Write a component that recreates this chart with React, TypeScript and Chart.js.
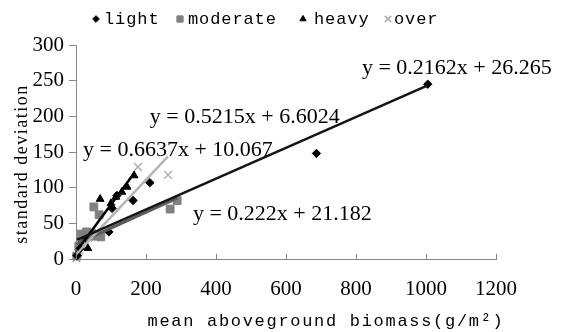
import React, { useEffect, useRef } from 'react';
import { Chart, registerables } from 'chart.js';
import { drawPoint } from 'chart.js/helpers';

Chart.register(...registerables);

// ---------- data ----------
const seriesNames = ['light', 'moderate', 'heavy', 'over'];

const lightX = [3, 12, 30, 94, 103, 117, 163, 211, 687, 1005];
const lightY = [5, 15, 28, 38, 71, 89, 82, 107, 148, 245];

const moderateX = [2, 8, 15, 22, 30, 45, 51, 55, 66, 71, 269, 289];
const moderateY = [4, 18, 35, 30, 38, 36, 73, 32, 62, 31, 70, 82];

const heavyX = [4, 10, 14, 34, 69, 100, 114, 131, 146, 166];
const heavyY = [8, 20, 31, 15, 84, 78, 87, 94, 101, 117];

const overX = [1, 3, 6, 10, 18, 35, 177, 263];
const overY = [1, 4, 8, 12, 20, 30, 129, 118];

const slopes = [0.2162, 0.222, 0.6637, 0.5215];
const intercepts = [26.265, 21.182, 10.067, 6.6024];
const equationLabels = [
  'y = 0.2162x + 26.265',
  'y = 0.222x + 21.182',
  'y = 0.6637x + 10.067',
  'y = 0.5215x + 6.6024',
];
// label anchors (left-middle) in data units
const equationAnchorX = [817, 334, 20, 211];
const equationAnchorY = [268, 63, 153, 199];

const xTickValues = [0, 200, 400, 600, 800, 1000, 1200];
const yTickValues = [0, 50, 100, 150, 200, 250, 300];

const xTitle = 'mean aboveground biomass(g/m²)';
const yTitle = 'standard deviation';

// ---------- styles ----------
const axisColor = '#868686';
const markerStyles = [
  { pointStyle: 'rectRot', radius: 4.2, color: '#000000', lineWidth: 1 },
  { pointStyle: 'rect', radius: 5.5, color: '#808080', lineWidth: 1 },
  { pointStyle: 'triangle', radius: 4.5, color: '#000000', lineWidth: 1 },
  { pointStyle: 'crossRot', radius: 5.5, color: '#b0b0b0', lineWidth: 1.5 },
];
const lineStyles = [
  { color: '#141414', width: 2.5, order: 0 },
  { color: '#5a5a5a', width: 3, order: 3 },
  { color: '#000000', width: 2.5, order: 1 },
  { color: '#b4b4b4', width: 2.5, order: 2 },
];
const legendMarkerX = [96, 180, 303, 388];
const legendTextX = [104, 188, 314, 394];
const legendY = 19;

const seriesX = [lightX, moderateX, heavyX, overX];
const seriesY = [lightY, moderateY, heavyY, overY];

const decorPlugin = {
  id: 'decor',
  afterDraw(chart: any) {
    const { ctx, chartArea } = chart;
    const xs = chart.scales.x;
    const ys = chart.scales.y;
    ctx.save();
    // inside tick marks on x axis
    ctx.strokeStyle = axisColor;
    ctx.lineWidth = 1;
    for (const v of xTickValues) {
      const px = Math.round(xs.getPixelForValue(v)) + 0.5;
      ctx.beginPath();
      ctx.moveTo(px, chartArea.bottom);
      ctx.lineTo(px, chartArea.bottom - 5);
      ctx.stroke();
    }
    // equations
    ctx.fillStyle = '#000';
    ctx.textAlign = 'left';
    ctx.textBaseline = 'middle';
    ctx.font = '22px "Liberation Serif"';
    (ctx as any).letterSpacing = '0px';
    equationLabels.forEach((t, i) => {
      ctx.fillText(t, xs.getPixelForValue(equationAnchorX[i]), ys.getPixelForValue(equationAnchorY[i]));
    });
    // legend
    ctx.font = '17px "Liberation Mono"';
    (ctx as any).letterSpacing = '0.9px';
    seriesNames.forEach((name, i) => {
      const m = markerStyles[i];
      ctx.fillStyle = m.color;
      ctx.strokeStyle = m.color;
      ctx.lineWidth = m.lineWidth;
      drawPoint(ctx, { pointStyle: m.pointStyle as any, radius: m.radius * 0.8, rotation: 0, borderWidth: m.lineWidth }, legendMarkerX[i], legendY);
      ctx.fillStyle = '#000';
      ctx.fillText(name, legendTextX[i], legendY);
    });
    // x title
    ctx.textAlign = 'center';
    ctx.font = '17px "Liberation Mono"';
    (ctx as any).letterSpacing = '1.7px';
    ctx.fillText(xTitle, 326, 321);
    // y title
    ctx.save();
    ctx.translate(22, 164);
    ctx.rotate(-Math.PI / 2);
    ctx.font = '18px "Liberation Serif"';
    (ctx as any).letterSpacing = '1.5px';
    ctx.fillText(yTitle, 0, 0);
    ctx.restore();
    ctx.restore();
  },
};

export default function App() {
  const ref = useRef<HTMLCanvasElement | null>(null);
  useEffect(() => {
    document.body.style.margin = '0';
    const canvas = ref.current!;
    const datasets: any[] = [];
    seriesNames.forEach((name, i) => {
      const xsArr = seriesX[i];
      const x0 = Math.min(...xsArr);
      const x1 = Math.max(...xsArr);
      datasets.push({
        type: 'line',
        label: name + ' trend',
        data: [x0, x1].map((x) => ({ x, y: slopes[i] * x + intercepts[i] })),
        borderColor: lineStyles[i].color,
        borderWidth: lineStyles[i].width,
        pointRadius: 0,
        fill: false,
        order: lineStyles[i].order,
        clip: false,
      });
    });
    seriesNames.forEach((name, i) => {
      const m = markerStyles[i];
      datasets.push({
        type: 'scatter',
        label: name,
        data: seriesX[i].map((x, j) => ({ x, y: seriesY[i][j] })),
        pointStyle: m.pointStyle,
        pointRadius: m.radius,
        backgroundColor: m.color,
        borderColor: m.color,
        borderWidth: m.lineWidth,
        order: 4 + i,
        clip: false,
      });
    });
    const tickFont = { family: '"Liberation Serif"', size: 21 };
    const plain = (v: any) => String(v);
    const chart = new Chart(canvas, {
      type: 'scatter',
      data: { datasets },
      options: {
        animation: false,
        responsive: false,
        maintainAspectRatio: false,
        layout: { padding: { left: 0, top: 45, right: 66, bottom: 0 } },
        plugins: { legend: { display: false }, tooltip: { enabled: false }, title: { display: false } },
        scales: {
          x: {
            type: 'linear',
            min: xTickValues[0],
            max: xTickValues[xTickValues.length - 1],
            ticks: { stepSize: xTickValues[1] - xTickValues[0], font: tickFont, color: '#000', padding: 18, maxRotation: 0, callback: plain },
            grid: { display: true, drawOnChartArea: false, drawTicks: false, color: axisColor },
            border: { color: axisColor, width: 1 },
            afterFit: (s: any) => { s.height = 73; },
          },
          y: {
            type: 'linear',
            min: yTickValues[0],
            max: yTickValues[yTickValues.length - 1],
            ticks: { stepSize: yTickValues[1] - yTickValues[0], font: tickFont, color: '#000', padding: 5, callback: plain },
            grid: { display: true, drawOnChartArea: false, drawTicks: true, tickLength: 7, color: axisColor },
            border: { color: axisColor, width: 1 },
            afterFit: (s: any) => { s.width = 76; },
          },
        },
      },
      plugins: [decorPlugin],
    });
    return () => chart.destroy();
  }, []);
  return <canvas ref={ref} width={562} height={332} style={{ display: 'block', width: 562, height: 332 }} />;
}
